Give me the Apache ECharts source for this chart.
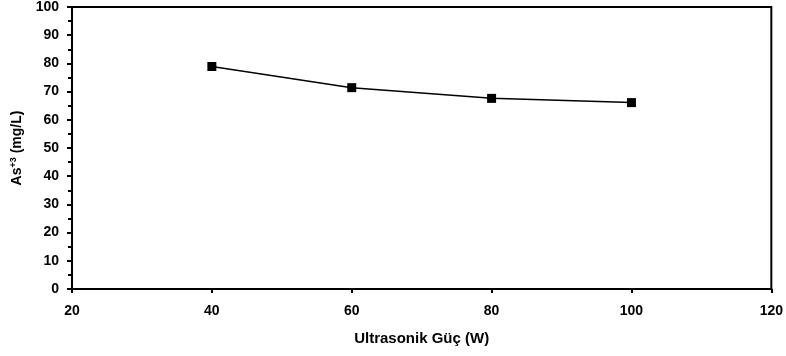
<!DOCTYPE html>
<html>
<head>
<meta charset="utf-8">
<script src="https://cdn.jsdelivr.net/npm/echarts@6/dist/echarts.min.js"></script>
<style>
  html, body { margin: 0; padding: 0; background: #fff; }
  #main { width: 786px; height: 356px; }
</style>
</head>
<body>
<div id="main"></div>
<script>
// ultrasonik güç (W) ve As+3 (mg/L)
var power = [40, 60, 80, 100];
var arsenic = [78.9, 71.4, 67.6, 66.1];

var chart = echarts.init(document.getElementById('main'));

var labelFont = {
  color: '#000',
  fontFamily: 'Liberation Sans, Arial, sans-serif',
  fontWeight: 'bold',
  fontSize: 14
};

chart.setOption({
  animation: false,
  grid: {
    left: 72, right: 13, top: 7, bottom: 67,
    show: true,
    borderColor: '#000',
    borderWidth: 2
  },
  xAxis: {
    type: 'value',
    min: 20, max: 120, interval: 20,
    name: 'Ultrasonik Güç (W)',
    nameLocation: 'middle',
    nameGap: 42,
    nameTextStyle: Object.assign({}, labelFont, { fontSize: 15 }),
    axisLine: { show: true, lineStyle: { color: '#000', width: 2 } },
    axisTick: { show: true, length: 4, lineStyle: { color: '#000', width: 2 } },
    axisLabel: Object.assign({ margin: 15 }, labelFont),
    splitLine: { show: false }
  },
  yAxis: {
    type: 'value',
    min: 0, max: 100, interval: 10,
    name: 'As{sup|+3} (mg/L)',
    nameLocation: 'middle',
    nameGap: 44,
    nameRotate: 90,
    nameTextStyle: Object.assign({}, labelFont, {
      fontSize: 14,
      lineHeight: 16,
      rich: {
        sup: {
          fontSize: 9,
          fontWeight: 'bold',
          fontFamily: 'Liberation Sans, Arial, sans-serif',
          color: '#000',
          verticalAlign: 'top',
          lineHeight: 16
        }
      }
    }),
    axisLine: { show: true, lineStyle: { color: '#000', width: 2 } },
    axisTick: { show: true, length: 5, lineStyle: { color: '#000', width: 2 } },
    minorTick: { show: true, splitNumber: 2, length: 4, lineStyle: { color: '#000', width: 2 } },
    axisLabel: Object.assign({ margin: 13 }, labelFont),
    splitLine: { show: false }
  },
  series: [{
    type: 'line',
    data: power.map(function (p, i) { return [p, arsenic[i]]; }),
    symbol: 'rect',
    symbolSize: 9,
    itemStyle: { color: '#000' },
    lineStyle: { color: '#000', width: 1.5 }
  }]
});
</script>
</body>
</html>
